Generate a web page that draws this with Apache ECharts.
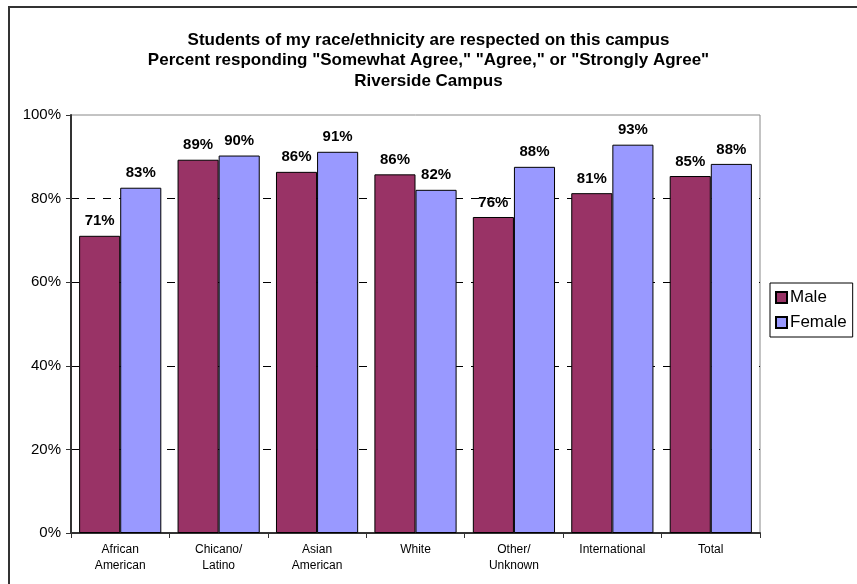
<!DOCTYPE html>
<html>
<head>
<meta charset="utf-8">
<script src="https://cdn.jsdelivr.net/npm/echarts@6/dist/echarts.min.js"></script>
<style>
html,body{margin:0;padding:0;background:#fff;}
#frame{position:absolute;left:8px;top:6px;width:900px;height:700px;border-left:2px solid #333;border-top:2px solid #333;box-sizing:border-box;}
#chart{position:absolute;left:0;top:0;width:857px;height:584px;}
</style>
</head>
<body>
<div id="frame"></div>
<div id="chart"></div>
<script>
const titleLines = [
  'Students of my race/ethnicity are respected on this campus',
  'Percent responding "Somewhat Agree," "Agree," or "Strongly Agree"',
  'Riverside Campus'
];
const categories = ['African\nAmerican', 'Chicano/\nLatino', 'Asian\nAmerican', 'White', 'Other/\nUnknown', 'International', 'Total'];
const maleValues = [71.1, 89.3, 86.4, 85.8, 75.6, 81.3, 85.4];
const femaleValues = [82.6, 90.3, 91.2, 82.1, 87.6, 92.9, 88.3];
const yTicks = [0, 20, 40, 60, 80, 100];
const seriesNames = ['Male', 'Female'];
const colors = ['#993366', '#9999FF'];

const chart = echarts.init(document.getElementById('chart'), null, {renderer: 'canvas'});
const font = 'Arial, "Liberation Sans", sans-serif';
function barSeries(name, data, color) {
  return {
    name: name,
    type: 'bar',
    data: data,
    barGap: '0%',
    barCategoryGap: '16.5%',
    itemStyle: {color: color, borderColor: '#000', borderWidth: 1},
    label: {
      show: true, position: 'top', distance: 7,
      fontFamily: font, fontWeight: 'bold', fontSize: 15, color: '#000',
      formatter: p => Math.round(p.value) + '%'
    },
    emphasis: {disabled: true}
  };
}
chart.setOption({
  animation: false,
  backgroundColor: 'transparent',
  textStyle: {fontFamily: font},
  title: {
    text: titleLines.join('\n'),
    left: 'center',
    top: 25,
    textStyle: {fontFamily: font, fontWeight: 'bold', fontSize: 17, lineHeight: 20.5, color: '#000'}
  },
  legend: {
    orient: 'vertical',
    left: 770,
    top: 283,
    width: 80,
    data: seriesNames,
    itemWidth: 11,
    itemHeight: 11,
    itemGap: 8,
    icon: 'rect',
    padding: [6, 6, 6, 5],
    borderColor: '#000',
    borderWidth: 1,
    backgroundColor: '#fff',
    textStyle: {fontFamily: font, fontSize: 17, color: '#000', padding: [0, 0, 0, -2]}
  },
  grid: {
    left: 71, right: 97, top: 115, bottom: 51,
    show: true, borderColor: '#888', borderWidth: 1, backgroundColor: 'transparent'
  },
  xAxis: {
    type: 'category',
    data: categories,
    axisLine: {lineStyle: {color: '#333', width: 2}},
    axisTick: {show: true, length: 5, lineStyle: {color: '#333', width: 1}},
    axisLabel: {fontFamily: font, fontSize: 12, lineHeight: 16, color: '#000', margin: 9, interval: 0}
  },
  yAxis: {
    type: 'value',
    min: yTicks[0],
    max: yTicks[yTicks.length - 1],
    interval: 20,
    axisLine: {show: true, lineStyle: {color: '#333', width: 2}},
    axisTick: {show: true, length: 5, lineStyle: {color: '#333', width: 1}},
    axisLabel: {fontFamily: font, fontSize: 15, color: '#000', margin: 10, formatter: v => v + '%'},
    splitLine: {show: true, showMinLine: false, showMaxLine: false, lineStyle: {color: '#000', type: [8, 8], width: 1}}
  },
  series: [
    barSeries(seriesNames[0], maleValues, colors[0]),
    barSeries(seriesNames[1], femaleValues, colors[1])
  ]
});
</script>
</body>
</html>
